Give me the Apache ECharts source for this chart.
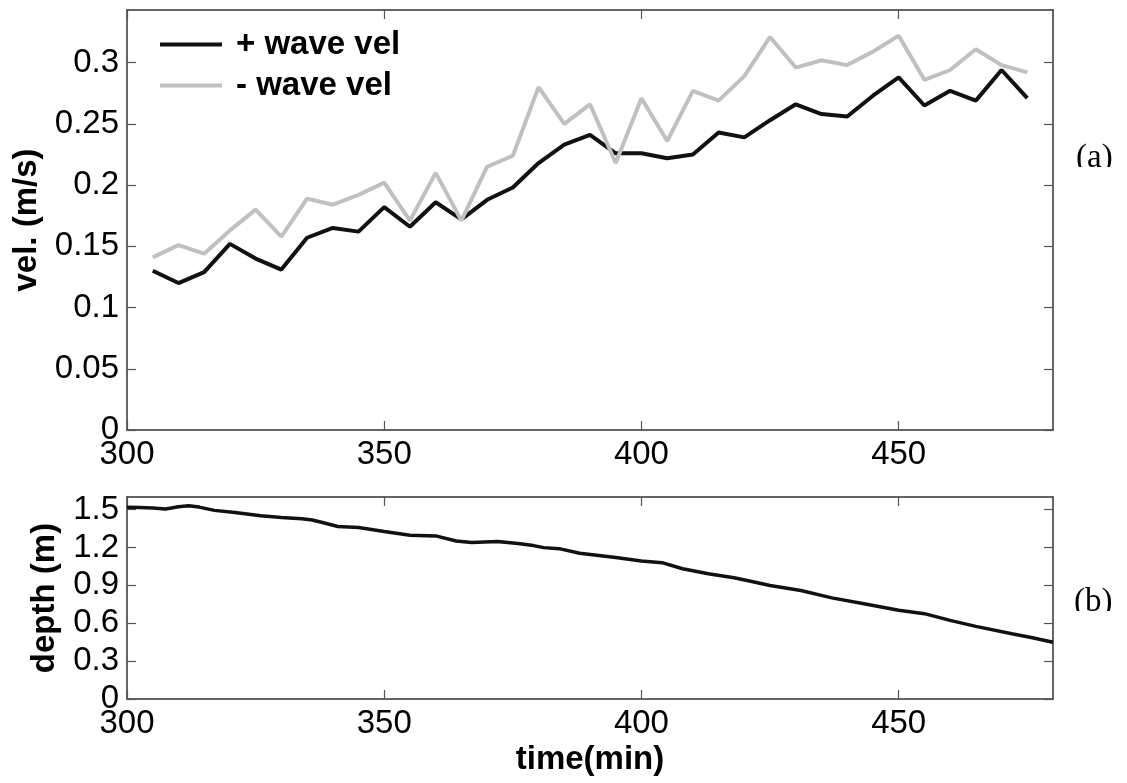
<!DOCTYPE html>
<html>
<head>
<meta charset="utf-8">
<style>
  html, body { margin: 0; padding: 0; width: 100%; height: 100%; overflow: hidden; background: #fff; }
</style>
<script src="https://cdn.jsdelivr.net/npm/echarts@6/dist/echarts.min.js"></script>
</head>
<body>
<div id="container" style="width: 1127px; height: 783px;"></div>
<script>
// (a) velocities every 5 min
var velTime = [305, 310, 315, 320, 325, 330, 335, 340, 345, 350, 355, 360, 365, 370, 375, 380, 385, 390,
  395, 400, 405, 410, 415, 420, 425, 430, 435, 440, 445, 450, 455, 460, 465, 470, 475];
var plusVel = [0.130, 0.120, 0.129, 0.152, 0.140, 0.131, 0.157, 0.165, 0.162, 0.182, 0.166, 0.186, 0.172,
  0.188, 0.198, 0.218, 0.233, 0.241, 0.226, 0.226, 0.222, 0.225, 0.243, 0.239, 0.253, 0.266, 0.258, 0.256,
  0.273, 0.288, 0.265, 0.277, 0.269, 0.294, 0.271];
var minusVel = [0.141, 0.151, 0.144, 0.163, 0.180, 0.158, 0.189, 0.184, 0.192, 0.202, 0.171, 0.210, 0.171,
  0.215, 0.224, 0.280, 0.250, 0.266, 0.218, 0.271, 0.236, 0.277, 0.269, 0.289, 0.321, 0.296, 0.302, 0.298,
  0.309, 0.322, 0.286, 0.294, 0.311, 0.298, 0.292];

// (b) water depth
var depthTime = [300, 302.5, 305, 307.5, 310, 312, 314, 317, 321, 326, 330, 334, 336, 338, 341, 345, 350, 355,
  360, 364, 367, 372, 376, 379, 381, 384, 388, 395, 400, 404, 408, 413, 418, 421, 425, 431, 437, 443, 450,
  455, 460, 465, 472, 476, 480];
var depthVal = [1.518, 1.516, 1.512, 1.505, 1.522, 1.530, 1.520, 1.494, 1.478, 1.451, 1.438, 1.428, 1.418,
  1.398, 1.366, 1.358, 1.327, 1.297, 1.292, 1.252, 1.239, 1.247, 1.231, 1.215, 1.199, 1.191, 1.154, 1.120,
  1.093, 1.080, 1.032, 0.992, 0.960, 0.934, 0.899, 0.859, 0.801, 0.756, 0.703, 0.676, 0.623, 0.575, 0.517,
  0.485, 0.450];

// tick positions
var timeTicks = [300, 350, 400, 450];
var velTicks = [0, 0.05, 0.1, 0.15, 0.2, 0.25, 0.3];
var depthTicks = [0, 0.3, 0.6, 0.9, 1.2, 1.5];

var legendNames = ['+ wave vel', '- wave vel'];

var FONT = 'Liberation Sans';
var FS = 33;

function zip(xs, ys) {
  return xs.map(function (x, i) { return [x, ys[i]]; });
}

function frameAxis(opt, ticks, withLabels) {
  var base = {
    type: 'value',
    axisLine: { show: true, onZero: false, lineStyle: { color: '#333', width: 1.5 } },
    axisTick: { show: true, inside: true, length: 9, customValues: ticks, lineStyle: { color: '#555', width: 1.2 } },
    splitLine: { show: false },
    axisLabel: withLabels
      ? { show: true, customValues: ticks, color: '#000', fontFamily: FONT, fontSize: FS,
          formatter: function (v) { return String(+v.toFixed(2)); } }
      : { show: false }
  };
  return Object.assign(base, opt);
}

function nameStyle() {
  return { fontFamily: FONT, fontSize: FS, fontWeight: 'bold', color: '#000' };
}

var dom = document.getElementById('container');
var myChart = echarts.init(dom, null, { renderer: 'canvas' });

var option = {
  animation: false,
  legend: {
    orient: 'vertical',
    left: 155,
    top: 19,
    icon: 'rect',
    itemWidth: 62,
    itemHeight: 4,
    itemGap: 0,
    data: legendNames,
    textStyle: { fontFamily: FONT, fontSize: FS, fontWeight: 'bold', color: '#000', lineHeight: 41, padding: [0, 0, 0, 9] }
  },
  grid: [
    { left: 127, right: 74, top: 10, height: 420 },
    { left: 127, right: 74, top: 497, height: 202 }
  ],
  xAxis: [
    frameAxis({ gridIndex: 0, position: 'bottom', min: 300, max: 480 }, timeTicks, true),
    frameAxis({ gridIndex: 0, position: 'top', min: 300, max: 480 }, timeTicks, false),
    frameAxis({ gridIndex: 1, position: 'bottom', min: 300, max: 480,
      name: 'time(min)', nameLocation: 'middle', nameGap: 44, nameTextStyle: nameStyle() }, timeTicks, true),
    frameAxis({ gridIndex: 1, position: 'top', min: 300, max: 480 }, timeTicks, false)
  ],
  yAxis: [
    frameAxis({ gridIndex: 0, position: 'left', min: 0, max: 0.343,
      name: 'vel. (m/s)', nameLocation: 'middle', nameGap: 82, nameTextStyle: nameStyle() }, velTicks, true),
    frameAxis({ gridIndex: 0, position: 'right', min: 0, max: 0.343 }, velTicks, false),
    frameAxis({ gridIndex: 1, position: 'left', min: 0, max: 1.6,
      name: 'depth (m)', nameLocation: 'middle', nameGap: 66, nameTextStyle: nameStyle() }, depthTicks, true),
    frameAxis({ gridIndex: 1, position: 'right', min: 0, max: 1.6 }, depthTicks, false)
  ],
  series: [
    {
      name: legendNames[0], type: 'line', xAxisIndex: 0, yAxisIndex: 0,
      symbol: 'none', color: '#111', lineStyle: { width: 4, color: '#111' },
      data: zip(velTime, plusVel)
    },
    {
      name: legendNames[1], type: 'line', xAxisIndex: 0, yAxisIndex: 0,
      symbol: 'none', color: '#c0c0c0', lineStyle: { width: 4, color: '#c0c0c0' },
      data: zip(velTime, minusVel)
    },
    {
      name: 'depth', type: 'line', xAxisIndex: 2, yAxisIndex: 2,
      symbol: 'none', color: '#111', lineStyle: { width: 3.5, color: '#111' },
      data: zip(depthTime, depthVal)
    }
  ],
  graphic: [
    { type: 'text', left: 1076, top: 142, z: 10,
      style: { text: '(a)', font: '33px "Liberation Serif"', fill: '#000' } },
    { type: 'rect', shape: { x: 1066, y: 167, width: 60, height: 20 }, z: 11,
      style: { fill: '#fff' } },
    { type: 'text', left: 1074, top: 586, z: 10,
      style: { text: '(b)', font: '33px "Liberation Serif"', fill: '#000' } },
    { type: 'rect', shape: { x: 1056, y: 611, width: 70, height: 20 }, z: 11,
      style: { fill: '#fff' } }
  ]
};

myChart.setOption(option);
window.addEventListener('resize', myChart.resize);
</script>
</body>
</html>
